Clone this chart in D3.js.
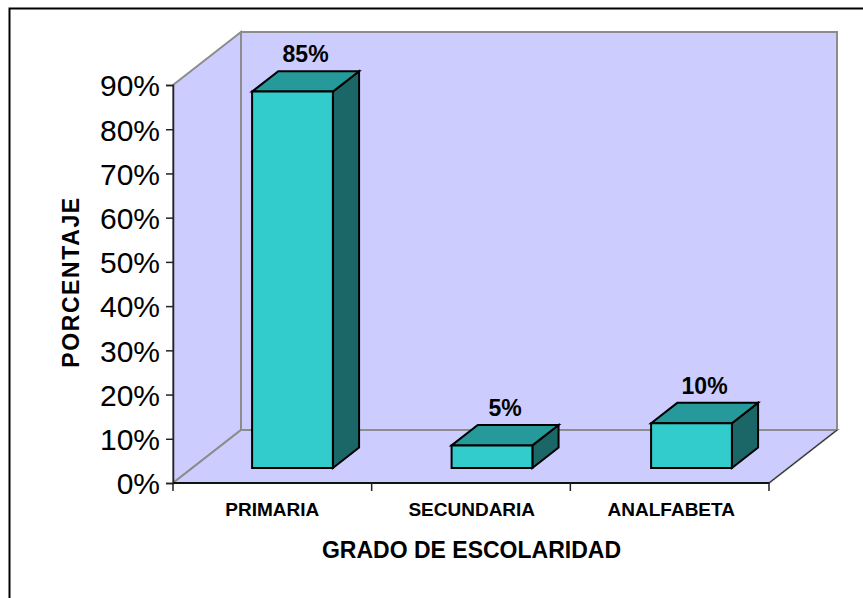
<!DOCTYPE html>
<html><head><meta charset="utf-8">
<script src="https://cdn.jsdelivr.net/npm/d3@7"></script>
<style>html,body{margin:0;padding:0;background:#fff}svg{display:block}text{font-family:"Liberation Sans",Arial,sans-serif;fill:#000}</style>
</head><body><svg id="c" width="863" height="598"></svg>
<script>
const categories = ["PRIMARIA","SECUNDARIA","ANALFABETA"];
const values = [85,5,10];
const valueLabels = ["85%","5%","10%"];
const yTicks = [0,10,20,30,40,50,60,70,80,90];
const xTitle = "GRADO DE ESCOLARIDAD";
const yTitle = "PORCENTAJE";

const svg = d3.select("#c");
const L=173,R=769,B=483,T=85, DX=68, DY=-53;
const barFrontF=0.283, barDepthF=0.385;
const x = d3.scaleBand().domain(categories).range([L+0.5,L+599]).paddingInner(0.595).paddingOuter(0.2975);
const y = d3.scaleLinear().domain([0,90]).range([B,T]);

svg.append("path").attr("d","M9.5 598V8.5H863").attr("fill","none").attr("stroke","#000").attr("stroke-width",2);

const poly=(pts,fill,stroke,sw)=>svg.append("polygon").attr("points",pts.map(p=>p.join(",")).join(" "))
  .attr("fill",fill).attr("stroke",stroke).attr("stroke-width",sw).attr("stroke-linejoin","miter");
const wall="#ccccff", grey="#8c8c8c";
poly([[L+DX,T+DY],[R+DX,T+DY],[R+DX,B+DY],[L+DX,B+DY]],wall,grey,2);
poly([[L,T],[L+DX,T+DY],[L+DX,B+DY],[L,B]],wall,grey,2);
poly([[L,B],[L+DX,B+DY],[R+DX,B+DY],[R,B]],wall,grey,2);
svg.append("line").attr("x1",R).attr("y1",B).attr("x2",R+DX).attr("y2",B+DY).attr("stroke","#222").attr("stroke-width",1);

const bw=x.bandwidth();
const off=[DX*barFrontF,DY*barFrontF], dep=[DX*barDepthF,DY*barDepthF];
categories.forEach((c,i)=>{
  const x0=x(c)+off[0], x1=x0+bw, y0=B+off[1], yt=y(values[i])+off[1]-0.5;
  poly([[x1,yt],[x1+dep[0],yt+dep[1]],[x1+dep[0],y0+dep[1]],[x1,y0]],"#1b6767","#000",2);
  poly([[x0,yt],[x0+dep[0],yt+dep[1]],[x1+dep[0],yt+dep[1]],[x1,yt]],"#269a9a","#000",2);
  poly([[x0,yt],[x1,yt],[x1,y0],[x0,y0]],"#33cccc","#000",2);
  svg.append("text").attr("x",(x0+x1)/2+dep[0]/2).attr("y",yt+dep[1]-9).attr("text-anchor","middle")
    .attr("font-size",23).attr("font-weight","bold").text(valueLabels[i]);
});

const yAxis=d3.axisLeft(y).tickValues(yTicks).tickFormat(d=>d+"%").tickSize(7).tickPadding(6);
const gy=svg.append("g").attr("transform",`translate(${L},0)`).call(yAxis);
gy.selectAll("text").attr("font-size",30).attr("font-family","Liberation Sans").attr("dy","0.36em");
gy.selectAll("line,path").attr("stroke","#222").attr("stroke-width",1.5);
const xAxis=d3.axisBottom(x).tickSize(0).tickPadding(18);
const gx=svg.append("g").attr("transform",`translate(0,${B})`).call(xAxis);
gx.selectAll("text").attr("font-size",19).attr("font-weight","bold").attr("font-family","Liberation Sans")
  .attr("y",20).attr("dy","0.71em").attr("dx",-1);
gx.select("path").attr("d",`M${L},0H${R}`).attr("stroke","#111").attr("stroke-width",2);
gx.selectAll(".tick line").remove();
const edges=d3.range(categories.length+1).map(i=>L+(R-L)*i/categories.length);
svg.selectAll(".xt").data(edges).join("line").attr("x1",d=>d).attr("x2",d=>d).attr("y1",B).attr("y2",B+8).attr("stroke","#222").attr("stroke-width",1.5);

svg.append("text").attr("x",471.5).attr("y",558).attr("text-anchor","middle").attr("font-size",23).attr("font-weight","bold").text(xTitle);
svg.append("text").attr("transform","translate(79,282) rotate(-90)").attr("text-anchor","middle").attr("font-size",23).attr("letter-spacing",1.6).attr("font-weight","bold").text(yTitle);
</script></body></html>
